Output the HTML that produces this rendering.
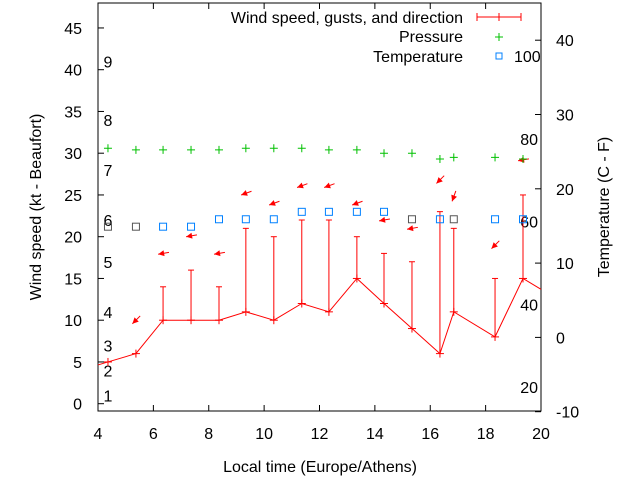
<!DOCTYPE html>
<html><head><meta charset="utf-8"><style>
body{margin:0;background:#fff}
svg{display:block;font-family:"Liberation Sans",sans-serif}
</style></head><body>
<svg id="c" width="640" height="480" viewBox="0 0 640 480" xmlns="http://www.w3.org/2000/svg"></svg>
<script>
const times=[4.36,5.37,6.35,7.36,8.37,9.34,10.35,11.36,12.34,13.35,14.33,15.34,16.35,16.85,18.34,19.35];
const windSpeed=[5,6,10,10,10,11,10,12,11,15,12,9,6,11,8,15];
const windGust=[null,null,14,16,14,21,20,22,22,20,18,17,23,21,15,25];
const pressure=[30.6,30.4,30.4,30.4,30.4,30.6,30.6,30.6,30.4,30.4,30.0,30.0,29.3,29.5,29.5,29.3];
const temperature=[14.9,14.9,14.9,14.9,15.9,15.9,15.9,16.9,16.9,16.9,16.9,15.9,15.9,15.9,15.9,15.9];
const arrowTimes=[5.37,6.35,7.36,8.37,9.34,10.35,11.36,12.34,13.35,14.33,15.34,16.35,16.85,18.34,19.35];
const arrowLevel=[10.0,18.0,20.1,18.0,25.2,24.0,26.1,26.1,24.0,22.0,21.0,26.8,24.8,19.0,29.2];
const arrowAngle=[225,190,190,190,200,200,200,200,200,190,190,225,250,225,190];
const xTicks=[4,6,8,10,12,14,16,18,20];
const yTicks=[0,5,10,15,20,25,30,35,40,45];
const y2Ticks=[-10,0,10,20,30,40];
const beaufort=["1","2","3","4","5","6","7","8","9"];
const beaufortKt=[1,4,7,11,17,22,28,34,41];
const fahr=["20","40","60","80"];
const fahrC=[-6.7,4.4,15.6,26.7];

const L=98,R=541,T=3,B=411;
const FS=16;
const X=t=>L+(t-4)*(R-L)/16;
const Y=v=>403.7-v*8.35;
const Y2=v=>337.4-v*7.43;
const svg=document.getElementById('c');
const NS='http://www.w3.org/2000/svg';
function el(tag,attrs,parent){const e=document.createElementNS(NS,tag);for(const k in attrs)e.setAttribute(k,attrs[k]);(parent||svg).appendChild(e);return e;}
function txt(s,x,y,anchor,parent,extra){const e=el('text',Object.assign({x:x,y:y,'font-size':FS,'text-anchor':anchor||'middle',fill:'#000'},extra||{}),parent);e.textContent=s;return e;}

const frame=el('rect',{x:L,y:T,width:R-L,height:B-T,fill:'none',stroke:'#000','stroke-width':1});



const xa=el('g',{});


xTicks.forEach(t=>{el('line',{x1:X(t),x2:X(t),y1:B,y2:B-6,stroke:'#000'},xa);el('line',{x1:X(t),x2:X(t),y1:T,y2:T+6,stroke:'#000'},xa);txt(String(t),X(t),439,'middle',xa);});
const ya=el('g',{});


yTicks.forEach(v=>{el('line',{x1:L,x2:L+6,y1:Y(v),y2:Y(v),stroke:'#000'},ya);txt(String(v),82,Y(v)+6,'end',ya);});
const y2a=el('g',{});


y2Ticks.forEach(v=>{el('line',{x1:R,x2:R-6,y1:Y2(v),y2:Y2(v),stroke:'#000'},y2a);txt(String(v),556,Y2(v)+6,'start',y2a);});

const bl=el('g',{});


beaufort.forEach((s,i)=>txt(s,108,Y(beaufortKt[i])+6,'middle',bl));
const fl=el('g',{});


fahr.forEach((s,i)=>txt(s,538,Y2(fahrC[i])+6,'end',fl));

const xt=txt('Local time (Europe/Athens)',320,472,'middle');


const yt=txt('Wind speed (kt - Beaufort)',41,207,'middle',null,{transform:'rotate(-90 41 207)'});


const y2t=txt('Temperature (C - F)',609,207,'middle',null,{transform:'rotate(-90 609 207)'});



// wind
const wg=el('g',{});


let pts=times.map((t,i)=>X(t)+','+Y(windSpeed[i]));
pts.unshift(L+','+Y(windSpeed[0]-(windSpeed[1]-windSpeed[0])*(times[0]-4)/(times[1]-times[0])));
pts.push(R+','+Y(13.7));
el('polyline',{points:pts.join(' '),fill:'none',stroke:'#f00','stroke-width':1},wg);
times.forEach((t,i)=>{
 const x=X(t),y=Y(windSpeed[i]);
 el('line',{x1:x-4,x2:x+4,y1:y,y2:y,stroke:'#f00'},wg);el('line',{x1:x,x2:x,y1:y-4,y2:y+4,stroke:'#f00'},wg);
 if(windGust[i]!=null){const g=Y(windGust[i]);const b=el('line',{x1:x,x2:x,y1:y,y2:g,stroke:'#f00'},wg);
 
 
 el('line',{x1:x-3,x2:x+3,y1:g,y2:g,stroke:'#f00'},wg);}
});
// arrows
arrowTimes.forEach((t,i)=>{
 const x=X(t),y=Y(arrowLevel[i]);const a=arrowAngle[i]*Math.PI/180;
 const dx=Math.cos(a),dy=-Math.sin(a);
 const g=el('g',{},wg);
 
 
 const hx=x+dx*5,hy=y+dy*5,tx=x-dx*6,ty=y-dy*6;
 el('line',{x1:tx,y1:ty,x2:hx,y2:hy,stroke:'#f00','stroke-width':1},g);
 const px=-dy,py=dx;
 el('polygon',{points:`${hx},${hy} ${hx-dx*6+px*3},${hy-dy*6+py*3} ${hx-dx*6-px*3},${hy-dy*6-py*3}`,fill:'#f00'},g);
});
// pressure
const pg=el('g',{});


times.forEach((t,i)=>{const x=X(t),y=Y(pressure[i]);el('path',{d:`M${x-4} ${y}H${x+4}M${x} ${y-4}V${y+4}`,stroke:'#00c000','stroke-width':1},pg);});
// temperature
const tg=el('g',{});


times.forEach((t,i)=>{const x=X(t),y=Y2(temperature[i]);const gray=(i<2||i==11||i==13);el('rect',{x:x-3.5,y:y-3.5,width:7,height:7,fill:'none',stroke:gray?'#555':'#0080ff','stroke-width':1},tg);});

// legend
const lg=el('g',{});


txt('Wind speed, gusts, and direction',463,23,'end',lg);
el('path',{d:'M477 17H521M477 13V21M521 13V21M499 13V21',stroke:'#f00',fill:'none'},lg);
txt('Pressure',463,42,'end',lg);
el('path',{d:'M495 37H503M499 33V41',stroke:'#00c000'},lg);
txt('Temperature',463,62,'end',lg);
el('rect',{x:496,y:53,width:6,height:6,fill:'none',stroke:'#0080ff'},lg);
txt('100',514,62,'start',lg);
</script>
</body></html>
